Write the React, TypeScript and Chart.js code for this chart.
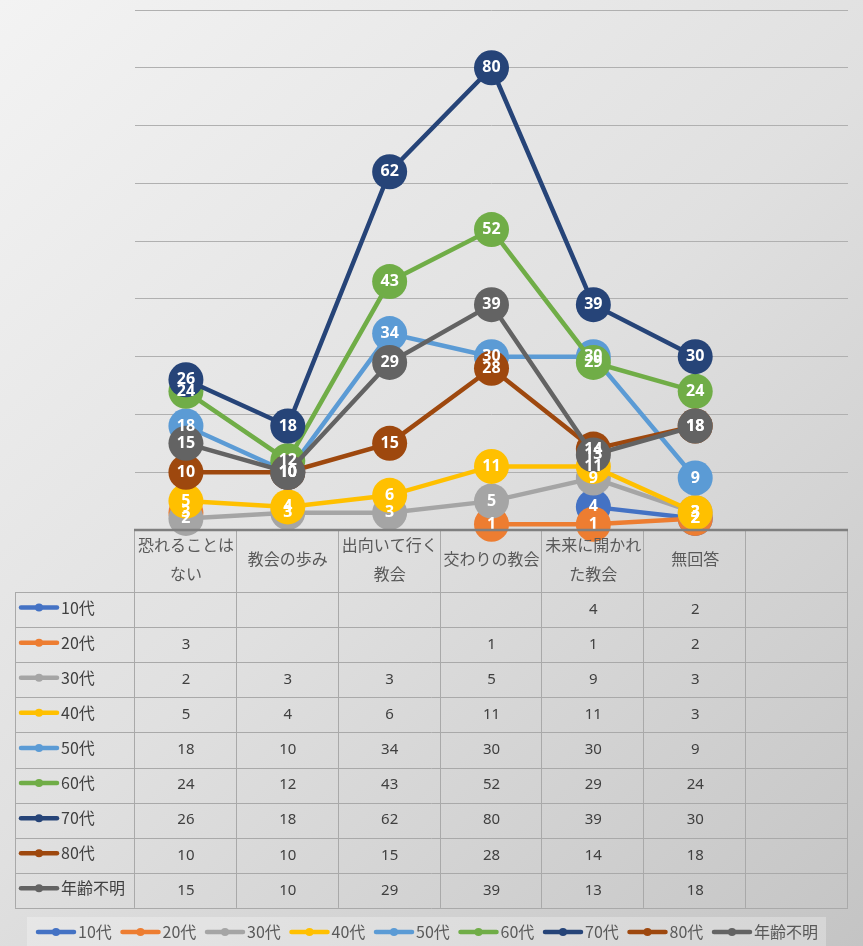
import React, { useEffect, useRef } from "react";
import { Chart, registerables } from "chart.js";

Chart.register(...registerables);

const categories: string[][] = [
  ["恐れることは", "ない"],
  ["教会の歩み"],
  ["出向いて行く", "教会"],
  ["交わりの教会"],
  ["未来に開かれ", "た教会"],
  ["無回答"],
  [],
];

const seriesNames = ["10代", "20代", "30代", "40代", "50代", "60代", "70代", "80代", "年齢不明"];
const seriesColors = ["#4472C4", "#ED7D31", "#A5A5A5", "#FFC000", "#5B9BD5", "#70AD47", "#264478", "#9E480E", "#636363"];

const s10: (number | null)[] = [null, null, null, null, 4, 2, null];
const s20: (number | null)[] = [3, null, null, 1, 1, 2, null];
const s30: (number | null)[] = [2, 3, 3, 5, 9, 3, null];
const s40: (number | null)[] = [5, 4, 6, 11, 11, 3, null];
const s50: (number | null)[] = [18, 10, 34, 30, 30, 9, null];
const s60: (number | null)[] = [24, 12, 43, 52, 29, 24, null];
const s70: (number | null)[] = [26, 18, 62, 80, 39, 30, null];
const s80: (number | null)[] = [10, 10, 15, 28, 14, 18, null];
const sUnknown: (number | null)[] = [15, 10, 29, 39, 13, 18, null];

const seriesValues = [s10, s20, s30, s40, s50, s60, s70, s80, sUnknown];

const yMin = 0;
const yMax = 90;
const yStep = 10;

const W = 863;
const H = 946;

const CJK = '"Noto Sans CJK JP", "Noto Sans", sans-serif';

export default function App() {
  const ref = useRef<HTMLCanvasElement | null>(null);

  useEffect(() => {
    const canvas = ref.current;
    if (!canvas) return;

    const bgPlugin = {
      id: "bg",
      beforeDraw(chart: any) {
        const ctx = chart.ctx;
        const g = ctx.createLinearGradient(0, 0, W, H);
        g.addColorStop(0, "#f3f3f3");
        g.addColorStop(0.5, "#e0e0e0");
        g.addColorStop(1, "#c4c4c4");
        ctx.save();
        ctx.fillStyle = g;
        ctx.fillRect(0, 0, W, H);
        ctx.restore();
      },
    };

    const labelPlugin = {
      id: "labels",
      afterDatasetsDraw(chart: any) {
        const ctx = chart.ctx;
        ctx.save();
        ctx.font = 'bold 16px "Noto Sans", sans-serif';
        ctx.fillStyle = "#ffffff";
        ctx.textAlign = "center";
        ctx.textBaseline = "middle";
        chart.data.datasets.forEach((ds: any, di: number) => {
          const meta = chart.getDatasetMeta(di);
          meta.data.forEach((pt: any, i: number) => {
            const v = ds.data[i];
            if (v === null || v === undefined) return;
            ctx.fillText(String(v), pt.x, pt.y);
          });
        });
        ctx.restore();
      },
    };

    const tablePlugin = {
      id: "table",
      afterDraw(chart: any) {
        const ctx = chart.ctx;
        const xs = chart.scales.x;
        const area = chart.chartArea;
        const n = categories.length;
        const colW = (area.right - area.left) / n;
        const tableTop = area.bottom;
        const headerBottom = tableTop + 62;
        const rowH = 35.1;
        const labelLeft = 15;
        const tableBottom = headerBottom + rowH * seriesNames.length;

        ctx.save();
        ctx.strokeStyle = "#a9a9a9";
        ctx.lineWidth = 1;
        ctx.beginPath();
        for (let c = 0; c <= n; c++) {
          const x = Math.round(area.left + c * colW) - 0.5;
          ctx.moveTo(x, tableTop);
          ctx.lineTo(x, tableBottom);
        }
        ctx.moveTo(labelLeft + 0.5, headerBottom);
        ctx.lineTo(labelLeft + 0.5, tableBottom);
        for (let r = 0; r <= seriesNames.length; r++) {
          const y = Math.round(headerBottom + r * rowH) + 0.5;
          ctx.moveTo(labelLeft, y);
          ctx.lineTo(area.right, y);
        }
        ctx.stroke();
        ctx.strokeStyle = "#7f7f7f";
        ctx.lineWidth = 2.5;
        ctx.beginPath();
        ctx.moveTo(area.left - 1, tableTop);
        ctx.lineTo(area.right, tableTop);
        ctx.stroke();

        ctx.fillStyle = "#595959";
        ctx.textAlign = "center";
        ctx.textBaseline = "middle";
        ctx.font = `16px ${CJK}`;
        categories.forEach((lines, i) => {
          const cx = xs.getPixelForValue(i);
          if (lines.length === 1) {
            ctx.fillText(lines[0], cx, tableTop + 29);
          } else if (lines.length === 2) {
            ctx.fillText(lines[0], cx, tableTop + 15);
            ctx.fillText(lines[1], cx, tableTop + 44);
          }
        });

        seriesNames.forEach((name, r) => {
          const cy = headerBottom + r * rowH + rowH / 2;
          ctx.strokeStyle = seriesColors[r];
          ctx.lineWidth = 4.5;
          ctx.lineCap = "round";
          ctx.beginPath();
          ctx.moveTo(21, cy - 2);
          ctx.lineTo(57, cy - 2);
          ctx.stroke();
          ctx.fillStyle = seriesColors[r];
          ctx.beginPath();
          ctx.arc(39, cy - 2, 4, 0, Math.PI * 2);
          ctx.fill();
          ctx.fillStyle = "#404040";
          ctx.textAlign = "left";
          ctx.font = `16px ${CJK}`;
          ctx.fillText(name, 61, cy - 2);
          ctx.textAlign = "center";
          ctx.font = '15px "Noto Sans", sans-serif';
          seriesValues[r].forEach((v, i) => {
            if (v === null || v === undefined) return;
            ctx.fillText(String(v), xs.getPixelForValue(i), cy);
          });
        });

        const lgTop = 917;
        ctx.fillStyle = "rgba(255,255,255,0.28)";
        ctx.fillRect(27, lgTop, 799, H - lgTop);
        const step = 84.5;
        seriesNames.forEach((name, i) => {
          const x0 = 36 + i * step;
          const cy = 932;
          ctx.strokeStyle = seriesColors[i];
          ctx.lineWidth = 4.5;
          ctx.lineCap = "round";
          ctx.beginPath();
          ctx.moveTo(x0 + 2, cy);
          ctx.lineTo(x0 + 38, cy);
          ctx.stroke();
          ctx.fillStyle = seriesColors[i];
          ctx.beginPath();
          ctx.arc(x0 + 20, cy, 4, 0, Math.PI * 2);
          ctx.fill();
          ctx.fillStyle = "#595959";
          ctx.textAlign = "left";
          ctx.font = `16px ${CJK}`;
          ctx.fillText(name, x0 + 42, cy);
        });
        ctx.restore();
      },
    };

    const chart = new Chart(canvas, {
      type: "line",
      data: {
        labels: categories.map((c) => c.join("")),
        datasets: seriesNames.map((name, i) => ({
          label: name,
          data: seriesValues[i],
          borderColor: seriesColors[i],
          backgroundColor: seriesColors[i],
          pointBackgroundColor: seriesColors[i],
          pointBorderColor: seriesColors[i],
          pointBorderWidth: 0,
          pointRadius: 17.5,
          pointHoverRadius: 17.5,
          borderWidth: 4.5,
          tension: 0,
          spanGaps: false,
          clip: false,
          order: seriesNames.length - i,
        })),
      },
      options: {
        responsive: false,
        animation: false,
        devicePixelRatio: 1,
        layout: { autoPadding: false, padding: { left: 135, right: 15, top: 10, bottom: H - 530 } },
        plugins: {
          legend: { display: false },
          tooltip: { enabled: false },
          title: { display: false },
        },
        scales: {
          x: {
            type: "category",
            offset: true,
            display: false,
          },
          y: {
            min: yMin,
            max: yMax,
            ticks: { display: false, stepSize: yStep, padding: 0 },
            grid: { color: "#b0b0b0", lineWidth: 1, drawTicks: false },
            border: { display: false },
          },
        },
      },
      plugins: [bgPlugin, labelPlugin, tablePlugin],
    });

    return () => chart.destroy();
  }, []);

  return (
    <div style={{ position: "absolute", left: 0, top: 0, width: W, height: H }}>
      <canvas ref={ref} width={W} height={H} style={{ display: "block" }} />
    </div>
  );
}
